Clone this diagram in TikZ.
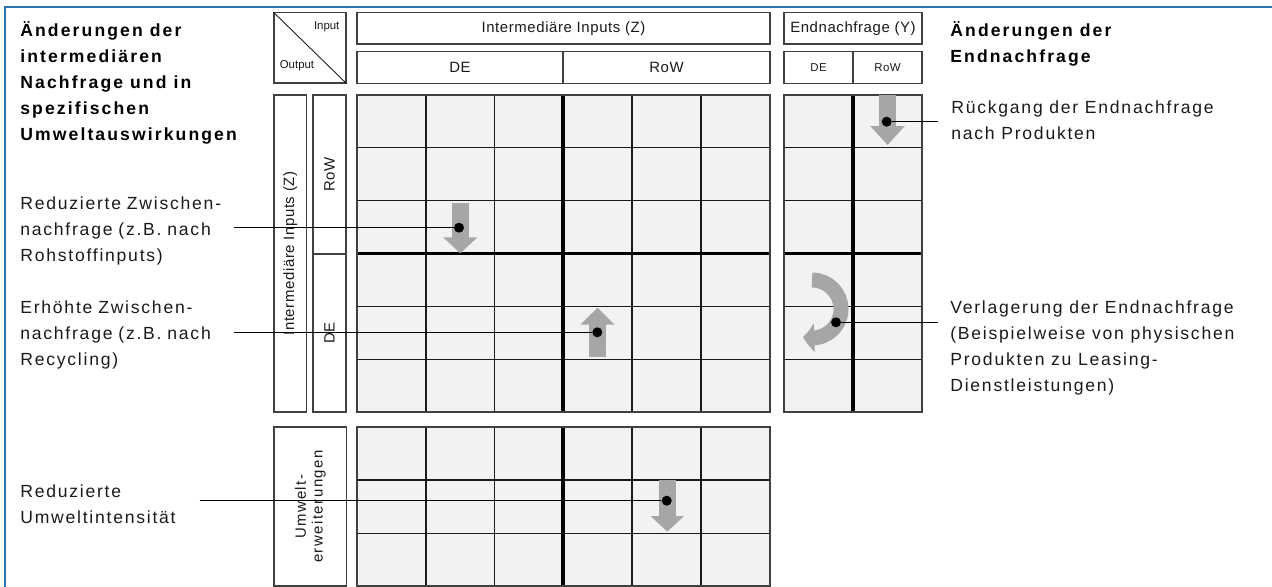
\documentclass[tikz,border=0pt]{standalone}
\usepackage{fontspec}
\setmainfont{Liberation Sans}
\newfontfamily\beschrfont{Liberation Sans}[LetterSpace=10]
\newfontfamily\kopffont{Liberation Sans}[LetterSpace=12]
\newfontfamily\kastenfont{Liberation Sans}[LetterSpace=4]
\usepackage{tikz}
\usetikzlibrary{arrows.meta, bending, calc}
\definecolor{tinte}{HTML}{1A1A1A}
\definecolor{rand}{HTML}{404040}
\definecolor{zellgrau}{HTML}{F2F2F2}
\definecolor{pfeilgrau}{HTML}{A6A6A6}
\definecolor{rahmenblau}{HTML}{2E74B5}
\tikzset{
  kasten/.style={rectangle, draw=rand, line width=0.8pt, fill=white, inner sep=0pt,
                 font=\kastenfont\fontsize{8.5}{10}\selectfont, text=tinte, align=center},
  kleinkasten/.style={kasten, font=\kastenfont\fontsize{6.5}{8}\selectfont},
  ecke/.style={font=\fontsize{6.5}{8}\selectfont, inner sep=0pt, text=tinte},
  beschr/.style={align=left, inner sep=0pt, font=\beschrfont\fontsize{10}{14.8}\selectfont, text=tinte},
  kopf/.style={align=left, inner sep=0pt, font=\kopffont\bfseries\fontsize{10}{14.8}\selectfont, text=black},
  gitter/.style={draw=tinte, line width=0.6pt},
  trenner/.style={draw=black, line width=2pt},
  aussen/.style={draw=rand, line width=1.1pt},
  pfeil/.style={draw=pfeilgrau, line width=9.7pt},
  punkt/.style={circle, fill=black, inner sep=0pt, minimum size=2mm},
  linie/.style={draw=black, line width=0.7pt},
  rahmen/.style={draw=rahmenblau, line width=1.2pt}
}
\begin{document}
\begin{tikzpicture}[x=0.2mm, y=-0.2mm]
  \useasboundingbox (0,0) rectangle (1272,587);
  \draw [rahmen] (5,587) -- (5,7) -- (1272,7);

  % Kopfzeilen
  \node (ioKasten) [kasten, minimum width=14.4mm, minimum height=14.06mm] at (310,47.9) {};
  \draw [tinte, line width=0.5pt] (ioKasten.north west) -- (ioKasten.south east);
  \node (ioIn) [ecke] at (326.7,27) {Input};
  \node (ioOut) [ecke] at (297,66) {Output};
  \node (zKopf) [kasten, minimum width=82.6mm, minimum height=6.26mm] at (563.5,28.35) {Intermediäre Inputs (Z)};
  \node (zDe) [kasten, minimum width=41.2mm, minimum height=6.32mm] at (460,67.5) {DE};
  \node (zRow) [kasten, minimum width=41.4mm, minimum height=6.32mm] at (666.5,67.5) {RoW};
  \node (yKopf) [kasten, minimum width=27.6mm, minimum height=6.26mm] at (853,28.35) {Endnachfrage (Y)};
  \node (yDe) [kleinkasten, minimum width=13.8mm, minimum height=6.32mm] at (818.5,67.5) {DE};
  \node (yRow) [kleinkasten, minimum width=13.8mm, minimum height=6.32mm] at (887.5,67.5) {RoW};

  % Seitenspalten
  \node (zSeite) [kasten, rotate=90, minimum width=63.4mm, minimum height=6.54mm] at (290.3,253.5) {Intermediäre Inputs (Z)};
  \node (rowSeite) [kasten, rotate=90, minimum width=31.8mm, minimum height=6.6mm] at (329.5,174.5) {RoW};
  \node (deSeite) [kasten, rotate=90, minimum width=31.6mm, minimum height=6.6mm] at (329.5,333) {DE};
  \node (umwSeite) [kasten, rotate=90, minimum width=31.8mm, minimum height=14.54mm,
                    font=\beschrfont\fontsize{8.5}{9.5}\selectfont] at (310.3,506.5) {Umwelt-\\erweiterungen};

  % Matrix Z
  \fill [zellgrau] (357,95) rectangle (770,412);
  \foreach \x in {426,494.5,632,701}
    \draw [gitter] (\x,95) -- (\x,412);
  \foreach \y in {147.8,200.7,306.3,359.2}
    \draw [gitter] (357,\y) -- (770,\y);
  \draw [trenner] (563,95) -- (563,412);
  \draw [trenner] (357,253.5) -- (770,253.5);
  \draw [aussen] (357,95) rectangle (770,412);

  % Matrix Y
  \fill [zellgrau] (784,95) rectangle (922,412);
  \foreach \y in {147.8,200.7,306.3,359.2}
    \draw [gitter] (784,\y) -- (922,\y);
  \draw [trenner] (853,95) -- (853,412);
  \draw [trenner] (784,253.5) -- (922,253.5);
  \draw [aussen] (784,95) rectangle (922,412);

  % Umwelterweiterungen
  \fill [zellgrau] (357,427) rectangle (770,586);
  \foreach \x in {426,494.5,632,701}
    \draw [gitter] (\x,427) -- (\x,586);
  \foreach \y in {480,533.3}
    \draw [gitter] (357,\y) -- (770,\y);
  \draw [trenner] (563,427) -- (563,586);
  \draw [aussen] (357,427) rectangle (770,586);

  % Pfeile
  \draw [pfeil, -{Triangle[length=9.1pt, width=19pt]}] (460.3,203.3) -- (460.3,253.3);
  \draw [pfeil, -{Triangle[length=9.7pt, width=18.8pt]}] (597.5,357.3) -- (597.5,307.7);
  \draw [pfeil, -{Triangle[length=10.8pt, width=19pt]}] (887.5,95) -- (887.5,145);
  \draw [pfeil, -{Triangle[length=8.9pt, width=18.5pt]}] (667.3,480) -- (667.3,531.7);
  \draw [pfeil, line width=8.5pt, -{Triangle[length=6.5pt, width=16pt, bend]}]
    (812,280) arc[start angle=90, end angle=-108, radius=5.8mm];

  % Punkte
  \node (pRed) [punkt] at (459,227.7) {};
  \node (pErh) [punkt] at (597.3,332.3) {};
  \node (pUmw) [punkt] at (666.7,500.7) {};
  \node (pRueck) [punkt] at (886.7,121.7) {};
  \node (pVerl) [punkt] at (836,322.3) {};

  % Beschriftungen links
  \node (kopfL) [kopf, anchor=north west] at (20,21) {Änderungen der\\intermediären\\Nachfrage und in\\spezifischen\\Umweltauswirkungen};
  \node (lRed) [beschr, text width=42.6mm, anchor=north west] at (20,196) {Reduzierte Zwischen-\\nachfrage (z.B. nach\\Rohstoffinputs)};
  \node (lErh) [beschr, text width=42.6mm, anchor=north west] at (20,300.5) {Erhöhte Zwischen-\\nachfrage (z.B. nach\\Recycling)};
  \node (lUmw) [beschr, text width=35.8mm, anchor=north west] at (20,484) {Reduzierte\\Umweltintensität};

  % Beschriftungen rechts
  \node (kopfR) [kopf, anchor=north west] at (950,21) {Änderungen der\\Endnachfrage};
  \node (lRueck) [beschr, anchor=north west] at (951,100.5) {Rückgang der Endnachfrage\\nach Produkten};
  \node (lVerl) [beschr, anchor=north west] at (950,300) {Verlagerung der Endnachfrage\\(Beispielweise von physischen\\Produkten zu Leasing-\\Dienstleistungen)};

  % Hinweislinien
  \draw [linie] (lRed.east |- pRed) -- (pRed);
  \draw [linie] (lErh.east |- pErh) -- (pErh);
  \draw [linie] (lUmw.east |- pUmw) -- (pUmw);
  \draw [linie] (pRueck) -- ($(lRueck.west |- pRueck)+(-13,0)$);
  \draw [linie] (pVerl) -- ($(lVerl.west |- pVerl)+(-12,0)$);
\end{tikzpicture}
\end{document}
